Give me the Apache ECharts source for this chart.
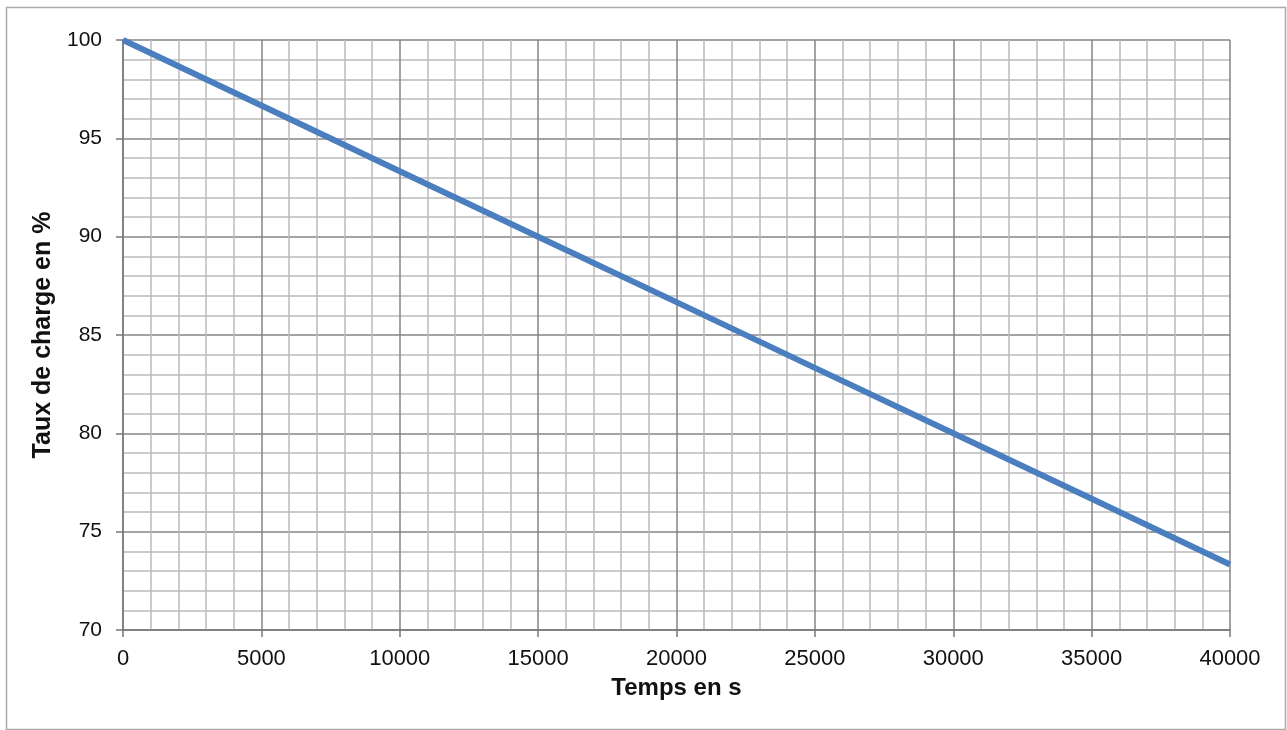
<!DOCTYPE html>
<html><head><meta charset="utf-8">
<script src="https://cdn.jsdelivr.net/npm/echarts@6/dist/echarts.min.js"></script>
<style>html,body{margin:0;padding:0;background:#fff;}#c{width:1287px;height:730px;}</style>
</head><body><div id="c"></div>
<script>
const timeValues = [0, 5000, 10000, 15000, 20000, 25000, 30000, 35000, 40000];
const chargeValues = [100, 96.67, 93.33, 90, 86.67, 83.33, 80, 76.67, 73.33];
const xTitle = 'Temps en s';
const yTitle = 'Taux de charge en %';

const chart = echarts.init(document.getElementById('c'), null, {renderer: 'canvas'});
const font = 'Liberation Sans, Arial, sans-serif';
chart.setOption({
  backgroundColor: '#ffffff',
  animation: false,
  graphic: [{type: 'rect', left: 4, top: 5, shape: {width: 1279, height: 722}, style: {fill: 'none', stroke: '#aaaaaa', lineWidth: 1.5}, silent: true}],
  grid: {left: 123, right: 57, top: 40, bottom: 100},
  xAxis: {
    type: 'value', min: 0, max: 40000, interval: 5000,
    name: xTitle, nameLocation: 'middle', nameGap: 46,
    nameTextStyle: {fontFamily: font, fontSize: 24, fontWeight: 'bold', color: '#111'},
    axisLine: {show: true, lineStyle: {color: '#777', width: 1.5}},
    axisTick: {show: true, length: 7, lineStyle: {color: '#777', width: 1.5}},
    axisLabel: {fontFamily: font, fontSize: 22, color: '#111', margin: 18, formatter: v => String(v)},
    splitLine: {show: true, lineStyle: {color: '#858585', width: 1.5}},
    minorTick: {show: false, splitNumber: 5},
    minorSplitLine: {show: true, lineStyle: {color: '#bbbbbb', width: 1.5}}
  },
  yAxis: {
    type: 'value', min: 70, max: 100, interval: 5,
    name: yTitle, nameLocation: 'middle', nameGap: 62,
    nameTextStyle: {fontFamily: font, fontSize: 25, fontWeight: 'bold', color: '#111'},
    axisLine: {show: true, lineStyle: {color: '#777', width: 1.5}},
    axisTick: {show: true, length: 7, lineStyle: {color: '#777', width: 1.5}},
    axisLabel: {fontFamily: font, fontSize: 21, color: '#111', margin: 21, formatter: v => String(v)},
    splitLine: {show: true, lineStyle: {color: '#858585', width: 1.5}},
    minorTick: {show: false, splitNumber: 5},
    minorSplitLine: {show: true, lineStyle: {color: '#bbbbbb', width: 1.5}}
  },
  series: [{
    type: 'line', data: timeValues.map((t, i) => [t, chargeValues[i]]),
    showSymbol: false, lineStyle: {color: '#4a7ebf', width: 6}, z: 10
  }]
});
</script></body></html>
